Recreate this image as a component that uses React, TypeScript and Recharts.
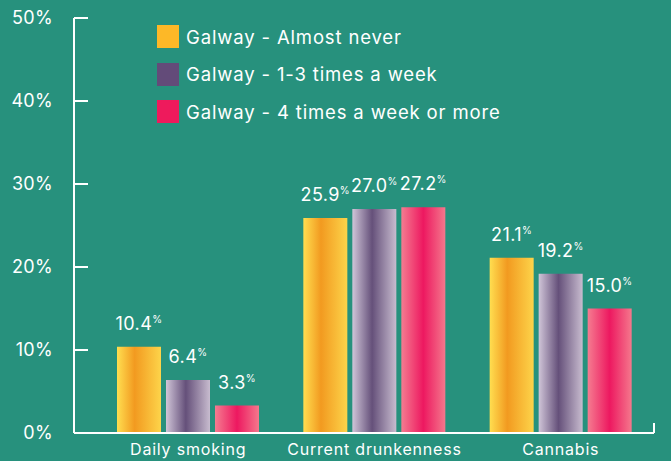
import React from 'react';
import { BarChart, Bar, XAxis, YAxis, LabelList, ReferenceLine } from 'recharts';

const categories = ['Daily smoking', 'Current drunkenness', 'Cannabis'];
const almostNever = [10.4, 25.9, 21.1];
const oneToThree = [6.4, 27.0, 19.2];
const fourPlus = [3.3, 27.2, 15.0];
const seriesNames = ['Galway - Almost never', 'Galway - 1-3 times a week', 'Galway - 4 times a week or more'];
const seriesKeys = ['a', 'b', 'c'];
const legendColors = ['#FDB827', '#634B79', '#EE1A5C'];
const yTicks = [0, 10, 20, 30, 40, 50];

const data = categories.map((name, i) => ({ name, a: almostNever[i], b: oneToThree[i], c: fourPlus[i] }));

const FONT = 'Inter, "Open Sans", sans-serif';
const BG = '#27917D';

const YTick = (props: any) => {
  const { x, y, payload } = props;
  return (
    <g>
      <line x1={x + 21} x2={x + 35} y1={y} y2={y} stroke="#fff" strokeWidth={2} />
      <text x={x} y={y} dy="0.36em" textAnchor="end" fill="#fff" fontSize={18} fontFamily={FONT} letterSpacing={0.3}>
        {payload.value}%
      </text>
    </g>
  );
};

const XTick = (props: any) => {
  const { x, y, payload } = props;
  return (
    <text x={x} y={y} dy="0.71em" textAnchor="middle" fill="#fff" fontSize={16} fontFamily={FONT} letterSpacing={0.8}>
      {payload.value}
    </text>
  );
};

const ValueLabel = (props: any) => {
  const { x, y, width, value } = props;
  return (
    <text x={x + width / 2} y={y - 17} textAnchor="middle" fill="#fff" fontFamily={FONT} fontSize={18} letterSpacing={0.4}>
      <tspan>{Number(value).toFixed(1)}</tspan>
      <tspan fontSize={10} dy={-7}>%</tspan>
    </text>
  );
};

const LegendBox = () => (
  <div style={{ position: 'absolute', left: 157, top: 18, fontFamily: FONT }}>
    {seriesNames.map((n, i) => (
      <div key={n} style={{ display: 'flex', alignItems: 'center', height: 37.5 }}>
        <div style={{ width: 22, height: 23, background: legendColors[i], marginRight: 7 }} />
        <span style={{ color: '#fff', fontSize: 18.5, letterSpacing: 0.85, whiteSpace: 'nowrap' }}>{n}</span>
      </div>
    ))}
  </div>
);

export default function App() {
  return (
    <div style={{ position: 'absolute', left: 0, top: 0, width: 671, height: 461, background: BG }}>
      <BarChart
        width={671}
        height={461}
        data={data}
        margin={{ top: 18, right: 17, left: 0, bottom: 0 }}
        barSize={44}
        barGap={5}
      >
        <defs>
          <linearGradient id="gA" x1="0" y1="0" x2="1" y2="0">
            <stop offset="0%" stopColor="#FFDE50" />
            <stop offset="40%" stopColor="#F29A20" />
            <stop offset="100%" stopColor="#FDD44A" />
          </linearGradient>
          <linearGradient id="gB" x1="0" y1="0" x2="1" y2="0">
            <stop offset="0%" stopColor="#D0C5D8" />
            <stop offset="45%" stopColor="#65507A" />
            <stop offset="100%" stopColor="#C8BCCF" />
          </linearGradient>
          <linearGradient id="gC" x1="0" y1="0" x2="1" y2="0">
            <stop offset="0%" stopColor="#F57C90" />
            <stop offset="50%" stopColor="#ED1860" />
            <stop offset="100%" stopColor="#F4788C" />
          </linearGradient>
        </defs>
        <XAxis
          dataKey="name"
          height={28}
          padding={{ left: 21, right: 0 }}
          axisLine={{ stroke: '#fff', strokeWidth: 2 }}
          tickLine={false}
          tickSize={6}
          tickMargin={5}
          tick={<XTick />}
          interval={0}
        />
        <YAxis
          width={74}
          domain={[0, 50]}
          ticks={yTicks}
          axisLine={{ stroke: '#fff', strokeWidth: 2 }}
          tickLine={false}
          tickSize={0}
          tickMargin={21}
          tick={<YTick />}
        />
        <ReferenceLine
          segment={[{ x: 'Cannabis', y: 0 }, { x: 'Cannabis', y: 1.2 }]}
          position="end"
          stroke="#fff"
          strokeWidth={2}
          ifOverflow="visible"
        />
        {seriesKeys.map((k, i) => (
          <Bar key={k} dataKey={k} name={seriesNames[i]} fill={`url(#g${k.toUpperCase()})`} isAnimationActive={false}>
            <LabelList dataKey={k} content={<ValueLabel />} />
          </Bar>
        ))}
      </BarChart>
      <LegendBox />
    </div>
  );
}
